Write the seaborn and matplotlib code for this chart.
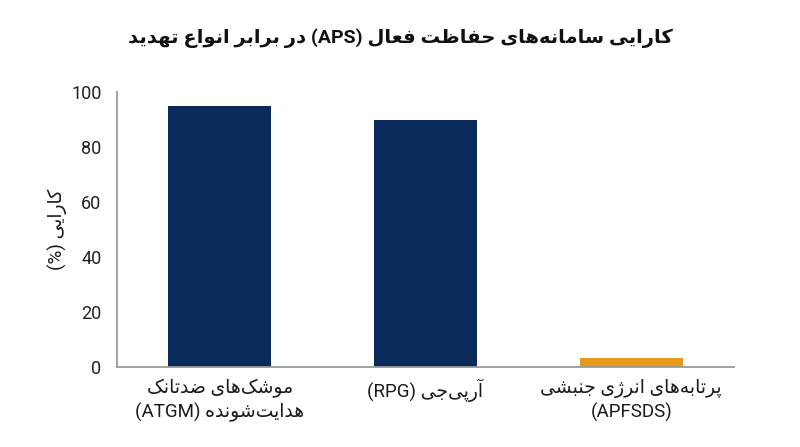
import re
import pandas as pd
import matplotlib
matplotlib.use("Agg")
import matplotlib.pyplot as plt
import seaborn as sns

# chart data
title = "کارایی سامانه‌های حفاظت فعال (APS) در برابر انواع تهدید"
y_label = "کارایی (%)"
categories = [
    "موشک‌های ضدتانک\nهدایت‌شونده (ATGM)",
    "آرپی‌جی (RPG)",
    "پرتابه‌های انرژی جنبشی\n(APFSDS)",
]
effectiveness = [95, 90, 3]
bar_colors = ["#0b2a5c", "#0b2a5c", "#e59a1c"]
y_ticks = [0, 20, 40, 60, 80, 100]

# matplotlib does not shape Arabic script, so map letters to their
# presentation forms by hand: (isolated, final, initial, medial)
FORMS = {
    "ا": ("\uFE8D", "\uFE8E", None, None),
    "آ": ("\uFE81", "\uFE82", None, None),
    "د": ("\uFEA9", "\uFEAA", None, None),
    "ر": ("\uFEAD", "\uFEAE", None, None),
    "ز": ("\uFEAF", "\uFEB0", None, None),
    "ژ": ("\uFB8A", "\uFB8B", None, None),
    "و": ("\uFEED", "\uFEEE", None, None),
    "ب": ("\uFE8F", "\uFE90", "\uFE91", "\uFE92"),
    "پ": ("\uFB56", "\uFB57", "\uFB58", "\uFB59"),
    "ت": ("\uFE95", "\uFE96", "\uFE97", "\uFE98"),
    "ج": ("\uFE9D", "\uFE9E", "\uFE9F", "\uFEA0"),
    "ح": ("\uFEA1", "\uFEA2", "\uFEA3", "\uFEA4"),
    "س": ("\uFEB1", "\uFEB2", "\uFEB3", "\uFEB4"),
    "ش": ("\uFEB5", "\uFEB6", "\uFEB7", "\uFEB8"),
    "ض": ("\uFEBD", "\uFEBE", "\uFEBF", "\uFEC0"),
    "ظ": ("\uFEC5", "\uFEC6", "\uFEC7", "\uFEC8"),
    "ع": ("\uFEC9", "\uFECA", "\uFECB", "\uFECC"),
    "ف": ("\uFED1", "\uFED2", "\uFED3", "\uFED4"),
    "ک": ("\uFB8E", "\uFB8F", "\uFB90", "\uFB91"),
    "ل": ("\uFEDD", "\uFEDE", "\uFEDF", "\uFEE0"),
    "م": ("\uFEE1", "\uFEE2", "\uFEE3", "\uFEE4"),
    "ن": ("\uFEE5", "\uFEE6", "\uFEE7", "\uFEE8"),
    "ه": ("\uFEE9", "\uFEEA", "\uFEEB", "\uFEEC"),
    "ی": ("\uFBFC", "\uFBFD", "\uFBFE", "\uFBFF"),
}


def joins_forward(c):
    return c in FORMS and FORMS[c][2] is not None


def shape_line(s):
    out = []
    for i, c in enumerate(s):
        if c not in FORMS:
            if c != "\u200c":
                out.append(c)
            continue
        prev = s[i - 1] if i > 0 else ""
        nxt = s[i + 1] if i + 1 < len(s) else ""
        jp = joins_forward(prev)
        jn = joins_forward(c) and nxt in FORMS
        iso, fin, ini, med = FORMS[c]
        if jp and jn:
            out.append(med)
        elif jp:
            out.append(fin)
        elif jn:
            out.append(ini)
        else:
            out.append(iso)
    return "".join(out)


def rtl(s):
    lines = []
    for line in s.split("\n"):
        v = shape_line(line)[::-1]
        v = re.sub(r"[A-Za-z0-9]+", lambda m: m.group(0)[::-1], v)
        v = v.translate(str.maketrans("()", ")("))
        lines.append(v)
    return "\n".join(lines)


df = pd.DataFrame({"threat": categories, "value": effectiveness})

sns.set_style("white")
plt.rcParams["font.family"] = ["Roboto", "DejaVu Sans"]

fig = plt.figure(figsize=(8, 4.47), dpi=100)
ax = fig.add_axes([0.146, 0.18, 0.7715, 0.614])

sns.barplot(data=df, x="threat", y="value", hue="threat",
            palette=bar_colors, legend=False, width=0.5,
            saturation=1, linewidth=0, ax=ax)

ax.set_xlim(-0.5, 2.5)
ax.set_ylim(0, 100)
ax.set_yticks(y_ticks)
ax.set_xticks(range(len(categories)))
ax.set_xticklabels([rtl(c) for c in categories], fontsize=13.5,
                   color="#1a1a1a", linespacing=1.3)
ax.tick_params(axis="y", labelsize=13, labelcolor="#222222", length=0, pad=11)
ax.tick_params(axis="x", length=0, pad=9)
ax.set_xlabel("")
ax.set_ylabel("")

for side in ["top", "right"]:
    ax.spines[side].set_visible(False)
for side in ["left", "bottom"]:
    ax.spines[side].set_color("#9a9a9a")
    ax.spines[side].set_linewidth(1.3)

fig.text(57 / 800, 1 - 229 / 447, rtl(y_label), rotation=90,
         ha="center", va="center", fontsize=13.5, color="#1a1a1a")
fig.text(0.5, 1 - 38 / 447, rtl(title), ha="center", va="center",
         fontsize=14, fontweight="bold", color="#111111")

fig.savefig("out.png", dpi=100, facecolor="white")
